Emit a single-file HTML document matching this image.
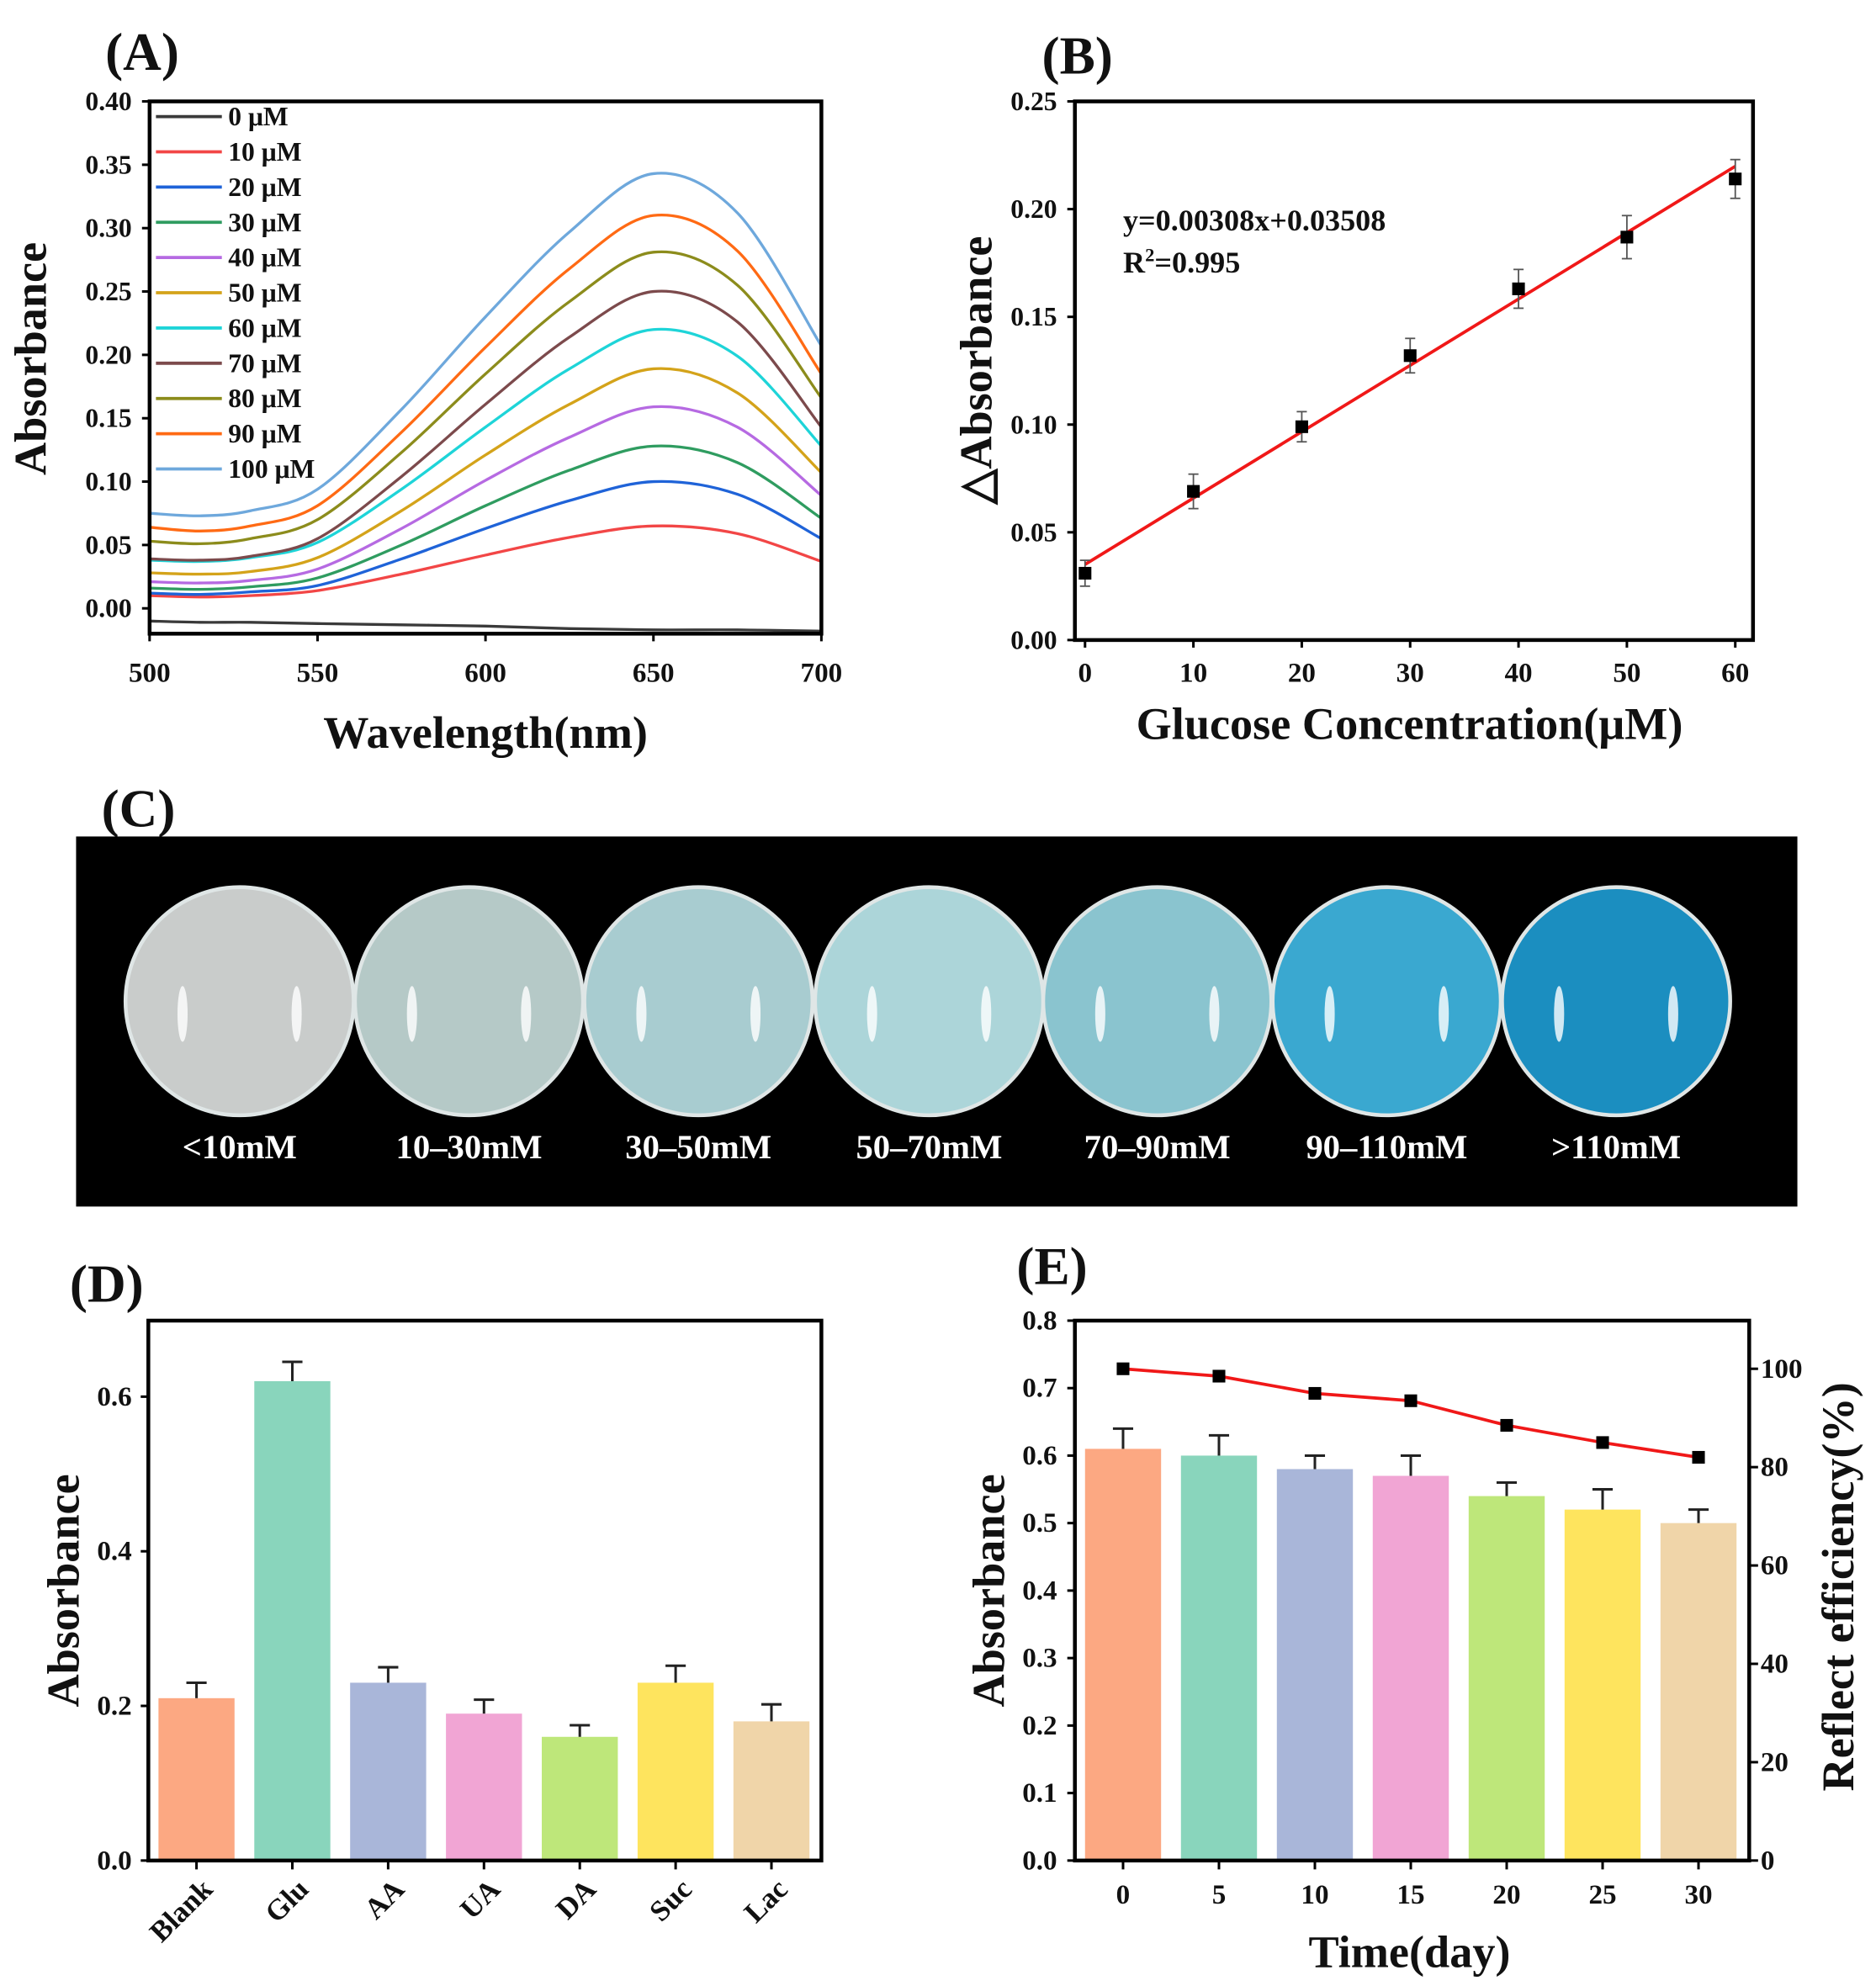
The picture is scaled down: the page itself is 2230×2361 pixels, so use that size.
<!DOCTYPE html>
<html><head><meta charset="utf-8">
<style>
html,body{margin:0;padding:0;background:#fff;}
svg{display:block;}
text{font-family:"Liberation Serif",serif;font-weight:bold;fill:#111;}
</style></head>
<body>
<svg id="fig" width="2230" height="2361" viewBox="0 0 1480 1567" xmlns="http://www.w3.org/2000/svg">
<g id="gA"></g>
<g id="gB"></g>
<g id="gC"></g>
<g id="gD"></g>
<g id="gE"></g>
</svg>
<script>
// ---------- Panel A data ----------
const wavelengths = [500,515,530,550,575,600,625,650,675,700];
const concLabels = ["0 μM","10 μM","20 μM","30 μM","40 μM","50 μM","60 μM","70 μM","80 μM","90 μM","100 μM"];
const s0   = [-0.010,-0.011,-0.011,-0.012,-0.013,-0.014,-0.016,-0.017,-0.017,-0.018];
const s10  = [0.010,0.009,0.010,0.014,0.027,0.042,0.056,0.065,0.059,0.037];
const s20  = [0.012,0.011,0.013,0.018,0.039,0.063,0.085,0.100,0.090,0.055];
const s30  = [0.016,0.015,0.017,0.024,0.050,0.081,0.109,0.128,0.115,0.071];
const s40  = [0.021,0.020,0.022,0.031,0.063,0.101,0.135,0.159,0.143,0.089];
const s50  = [0.028,0.027,0.029,0.040,0.077,0.121,0.161,0.189,0.170,0.107];
const s60  = [0.038,0.037,0.040,0.052,0.094,0.143,0.189,0.220,0.199,0.128];
const s70  = [0.039,0.038,0.041,0.055,0.104,0.161,0.214,0.250,0.226,0.143];
const s80  = [0.053,0.051,0.055,0.070,0.123,0.185,0.242,0.281,0.255,0.166];
const s90  = [0.064,0.061,0.065,0.081,0.139,0.206,0.268,0.310,0.282,0.185];
const s100 = [0.075,0.073,0.077,0.094,0.157,0.230,0.297,0.343,0.312,0.207];
const seriesA = [s0,s10,s20,s30,s40,s50,s60,s70,s80,s90,s100];
const colorsA = ["#3a3a3a","#f24646","#1f63d8","#2f9c60","#b66ae2","#d4a31a","#1ed4d8","#7c4a4c","#8c8c1c","#ff6a14","#6ea8dc"];
const ticksAy = ["0.00","0.05","0.10","0.15","0.20","0.25","0.30","0.35","0.40"];
const ticksAx = ["500","550","600","650","700"];
// ---------- Panel B data ----------
const concB = [0,10,20,30,40,50,60];
const valB = [0.031,0.069,0.099,0.132,0.163,0.187,0.214];
const errB = [0.006,0.008,0.007,0.008,0.009,0.010,0.009];
const fitSlope = 0.00308, fitIntercept = 0.03508;
const ticksBy = ["0.00","0.05","0.10","0.15","0.20","0.25"];
const ticksBx = ["0","10","20","30","40","50","60"];
// ---------- Panel C ----------
const photoLabels = ["<10mM","10–30mM","30–50mM","50–70mM","70–90mM","90–110mM",">110mM"];
const photoColors = ["#c9cccb","#b5c9c7","#a8ccd0","#acd5d9","#8ac4cf","#3aa8d0","#1b8ec0"];
// ---------- Panel D data ----------
const catD = ["Blank","Glu","AA","UA","DA","Suc","Lac"];
const valD = [0.21,0.62,0.23,0.19,0.16,0.23,0.18];
const errD = [0.02,0.025,0.02,0.018,0.015,0.022,0.022];
const ticksDy = ["0.0","0.2","0.4","0.6"];
const barColors = ["#fca882","#89d5bc","#a9b6d9","#f1a5d4","#bee77a","#fee45e","#f0d5a9"];
// ---------- Panel E data ----------
const daysE = [0,5,10,15,20,25,30];
const valE = [0.61,0.60,0.58,0.57,0.54,0.52,0.50];
const errE = [0.03,0.03,0.02,0.03,0.02,0.03,0.02];
const effE = [100,98.5,95,93.5,88.5,85,82];
const ticksEy = ["0.0","0.1","0.2","0.3","0.4","0.5","0.6","0.7","0.8"];
const ticksEr = ["0","20","40","60","80","100"];

const NS="http://www.w3.org/2000/svg";
function mk(parent,tag,attrs,txt){const e=document.createElementNS(NS,tag);for(const k in attrs)e.setAttribute(k,attrs[k]);if(txt!==undefined)e.textContent=txt;parent.appendChild(e);return e;}
function smooth(pts){let d="M"+pts[0][0]+","+pts[0][1];for(let i=0;i<pts.length-1;i++){const p0=pts[Math.max(i-1,0)],p1=pts[i],p2=pts[i+1],p3=pts[Math.min(i+2,pts.length-1)];const c1x=p1[0]+(p2[0]-p0[0])/6,c1y=p1[1]+(p2[1]-p0[1])/6,c2x=p2[0]-(p3[0]-p1[0])/6,c2y=p2[1]-(p3[1]-p1[1])/6;d+=" C"+c1x+","+c1y+" "+c2x+","+c2y+" "+p2[0]+","+p2[1];}return d;}

// ===== Panel A =====
(function(){
const g=document.getElementById('gA');
const X=w=>118+(w-500)*(530/200), Y=v=>480-v*1000;
let t=mk(g,'text',{x:83,y:55,'font-size':42});t.textContent="(A)";

seriesA.forEach((s,i)=>{const p=mk(g,'path',{d:smooth(s.map((v,j)=>[X(wavelengths[j]),Y(v)])),fill:'none',stroke:colorsA[i],'stroke-width':2.2});
});
const box=mk(g,'rect',{x:118,y:80,width:530,height:420,fill:'none',stroke:'#000','stroke-width':3});

ticksAy.forEach(l=>{const y=Y(parseFloat(l));mk(g,'line',{x1:118,x2:112,y1:y,y2:y,stroke:'#000','stroke-width':2});
const tt=mk(g,'text',{x:104,y:y+7,'font-size':21,'text-anchor':'end'},l);});
ticksAx.forEach(l=>{const x=X(+l);mk(g,'line',{x1:x,x2:x,y1:500,y2:506,stroke:'#000','stroke-width':2});
const tt=mk(g,'text',{x:x,y:538,'font-size':22,'text-anchor':'middle'},l);});
concLabels.forEach((l,i)=>{const y=92+i*27.8;mk(g,'line',{x1:123,x2:175,y1:y,y2:y,stroke:colorsA[i],'stroke-width':2.5});
const tt=mk(g,'text',{x:180,y:y+7,'font-size':21},l);});
let yt=mk(g,'text',{x:0,y:0,'font-size':36,'text-anchor':'middle',transform:'translate(36,283) rotate(-90)'},"Absorbance");

let xt=mk(g,'text',{x:383,y:590,'font-size':36,'text-anchor':'middle'},"Wavelength(nm)");

})();

// ===== Panel B =====
(function(){
const g=document.getElementById('gB');
const X=c=>856+c*(513/60), Y=v=>505-v*1700;
let t=mk(g,'text',{x:822,y:58,'font-size':42},"(B)");
const box=mk(g,'rect',{x:848,y:80,width:535,height:425,fill:'none',stroke:'#000','stroke-width':3});

ticksBy.forEach(l=>{const y=Y(parseFloat(l));mk(g,'line',{x1:848,x2:842,y1:y,y2:y,stroke:'#000','stroke-width':2});
const tt=mk(g,'text',{x:834,y:y+7,'font-size':21,'text-anchor':'end'},l);});
ticksBx.forEach(l=>{const x=X(+l);mk(g,'line',{x1:x,x2:x,y1:505,y2:511,stroke:'#000','stroke-width':2});
const tt=mk(g,'text',{x:x,y:538,'font-size':22,'text-anchor':'middle'},l);});
const fl=mk(g,'line',{x1:X(0),y1:Y(fitIntercept),x2:X(60),y2:Y(fitIntercept+fitSlope*60),stroke:'#f01818','stroke-width':2.5});

concB.forEach((c,i)=>{const x=X(c);
mk(g,'line',{x1:x,x2:x,y1:Y(valB[i]-errB[i]),y2:Y(valB[i]+errB[i]),stroke:'#555','stroke-width':1.2});
mk(g,'line',{x1:x-4,x2:x+4,y1:Y(valB[i]-errB[i]),y2:Y(valB[i]-errB[i]),stroke:'#555','stroke-width':1.2});
mk(g,'line',{x1:x-4,x2:x+4,y1:Y(valB[i]+errB[i]),y2:Y(valB[i]+errB[i]),stroke:'#555','stroke-width':1.2});
const r=mk(g,'rect',{x:x-5,y:Y(valB[i])-5,width:10,height:10,fill:'#000'});});
let e1=mk(g,'text',{x:886,y:182,'font-size':24},"y=0.00308x+0.03508");
let e2=mk(g,'text',{x:886,y:215,'font-size':24});e2.innerHTML='R<tspan dy="-9" font-size="15">2</tspan><tspan dy="9">=0.995</tspan>';

let yt=mk(g,'text',{x:0,y:0,'font-size':36,'text-anchor':'middle',transform:'translate(782,292) rotate(-90)'},"△Absorbance");

let xt=mk(g,'text',{x:1112,y:583,'font-size':36,'text-anchor':'middle'},"Glucose Concentration(μM)");

})();

// ===== Panel C =====
(function(){
const g=document.getElementById('gC');
let t=mk(g,'text',{x:80,y:652,'font-size':42},"(C)");
const bg=mk(g,'rect',{x:60,y:660,width:1358,height:292,fill:'#000'});
const cx=[189,370,551,733,913,1094,1275];
photoLabels.forEach((l,i)=>{
const c=mk(g,'circle',{cx:cx[i],cy:790,r:90,fill:photoColors[i],stroke:'#dfe6e6','stroke-width':3});

mk(g,'ellipse',{cx:cx[i]-45,cy:800,rx:4,ry:22,fill:'#fff',opacity:0.8});
mk(g,'ellipse',{cx:cx[i]+45,cy:800,rx:4,ry:22,fill:'#fff',opacity:0.8});
const tt=mk(g,'text',{x:cx[i],y:914,'font-size':27,'text-anchor':'middle',style:'fill:#fff'},l);
});
})();

// ===== Panel D =====
(function(){
const g=document.getElementById('gD');
const Y=v=>1468-v*610, X=i=>155+i*75.6;
let t=mk(g,'text',{x:55,y:1027,'font-size':42},"(D)");
catD.forEach((c,i)=>{const x=X(i);
const r=mk(g,'rect',{x:x-30,y:Y(valD[i]),width:60,height:Y(0)-Y(valD[i]),fill:barColors[i]});

mk(g,'line',{x1:x,x2:x,y1:Y(valD[i]),y2:Y(valD[i]+errD[i]),stroke:'#222','stroke-width':2});
mk(g,'line',{x1:x-8,x2:x+8,y1:Y(valD[i]+errD[i]),y2:Y(valD[i]+errD[i]),stroke:'#222','stroke-width':2});
mk(g,'line',{x1:x,x2:x,y1:1468,y2:1475,stroke:'#000','stroke-width':2});
const tt=mk(g,'text',{x:0,y:0,'font-size':23,'text-anchor':'end',transform:`translate(${x+14},${1492}) rotate(-45)`},c);
});
const box=mk(g,'rect',{x:117,y:1042,width:531,height:426,fill:'none',stroke:'#000','stroke-width':3});

ticksDy.forEach(l=>{const y=Y(parseFloat(l));mk(g,'line',{x1:117,x2:111,y1:y,y2:y,stroke:'#000','stroke-width':2});
const tt=mk(g,'text',{x:104,y:y+7,'font-size':22,'text-anchor':'end'},l);});
let yt=mk(g,'text',{x:0,y:0,'font-size':36,'text-anchor':'middle',transform:'translate(62,1255) rotate(-90)'},"Absorbance");

})();

// ===== Panel E =====
(function(){
const g=document.getElementById('gE');
const Y=v=>1468-v*532.5, X=d=>886+d*(454/30), YR=p=>1468-p*3.88;
let t=mk(g,'text',{x:802,y:1013,'font-size':42},"(E)");
daysE.forEach((d,i)=>{const x=X(d);
const r=mk(g,'rect',{x:x-30,y:Y(valE[i]),width:60,height:Y(0)-Y(valE[i]),fill:barColors[i]});

mk(g,'line',{x1:x,x2:x,y1:Y(valE[i]),y2:Y(valE[i]+errE[i]),stroke:'#222','stroke-width':2});
mk(g,'line',{x1:x-8,x2:x+8,y1:Y(valE[i]+errE[i]),y2:Y(valE[i]+errE[i]),stroke:'#222','stroke-width':2});
mk(g,'line',{x1:x,x2:x,y1:1468,y2:1475,stroke:'#000','stroke-width':2});
const tt=mk(g,'text',{x:x,y:1502,'font-size':22,'text-anchor':'middle'},String(d));});
const ln=mk(g,'polyline',{points:daysE.map((d,i)=>X(d)+","+YR(effE[i])).join(" "),fill:'none',stroke:'#f01818','stroke-width':2.5});

daysE.forEach((d,i)=>{const r=mk(g,'rect',{x:X(d)-5,y:YR(effE[i])-5,width:10,height:10,fill:'#000'});});
const box=mk(g,'rect',{x:848,y:1042,width:532,height:426,fill:'none',stroke:'#000','stroke-width':3});

ticksEy.forEach(l=>{const y=Y(parseFloat(l));mk(g,'line',{x1:848,x2:842,y1:y,y2:y,stroke:'#000','stroke-width':2});
const tt=mk(g,'text',{x:834,y:y+7,'font-size':22,'text-anchor':'end'},l);});
ticksEr.forEach(l=>{const y=YR(+l);mk(g,'line',{x1:1380,x2:1387,y1:y,y2:y,stroke:'#000','stroke-width':2});
const tt=mk(g,'text',{x:1389,y:y+7,'font-size':22},l);});
let yt=mk(g,'text',{x:0,y:0,'font-size':36,'text-anchor':'middle',transform:'translate(792,1255) rotate(-90)'},"Absorbance");

let yr=mk(g,'text',{x:0,y:0,'font-size':36,'text-anchor':'middle',transform:'translate(1462,1252) rotate(-90)'},"Reflect efficiency(%)");

let xt=mk(g,'text',{x:1112,y:1552,'font-size':36,'text-anchor':'middle'},"Time(day)");

})();
</script>
</body></html>
